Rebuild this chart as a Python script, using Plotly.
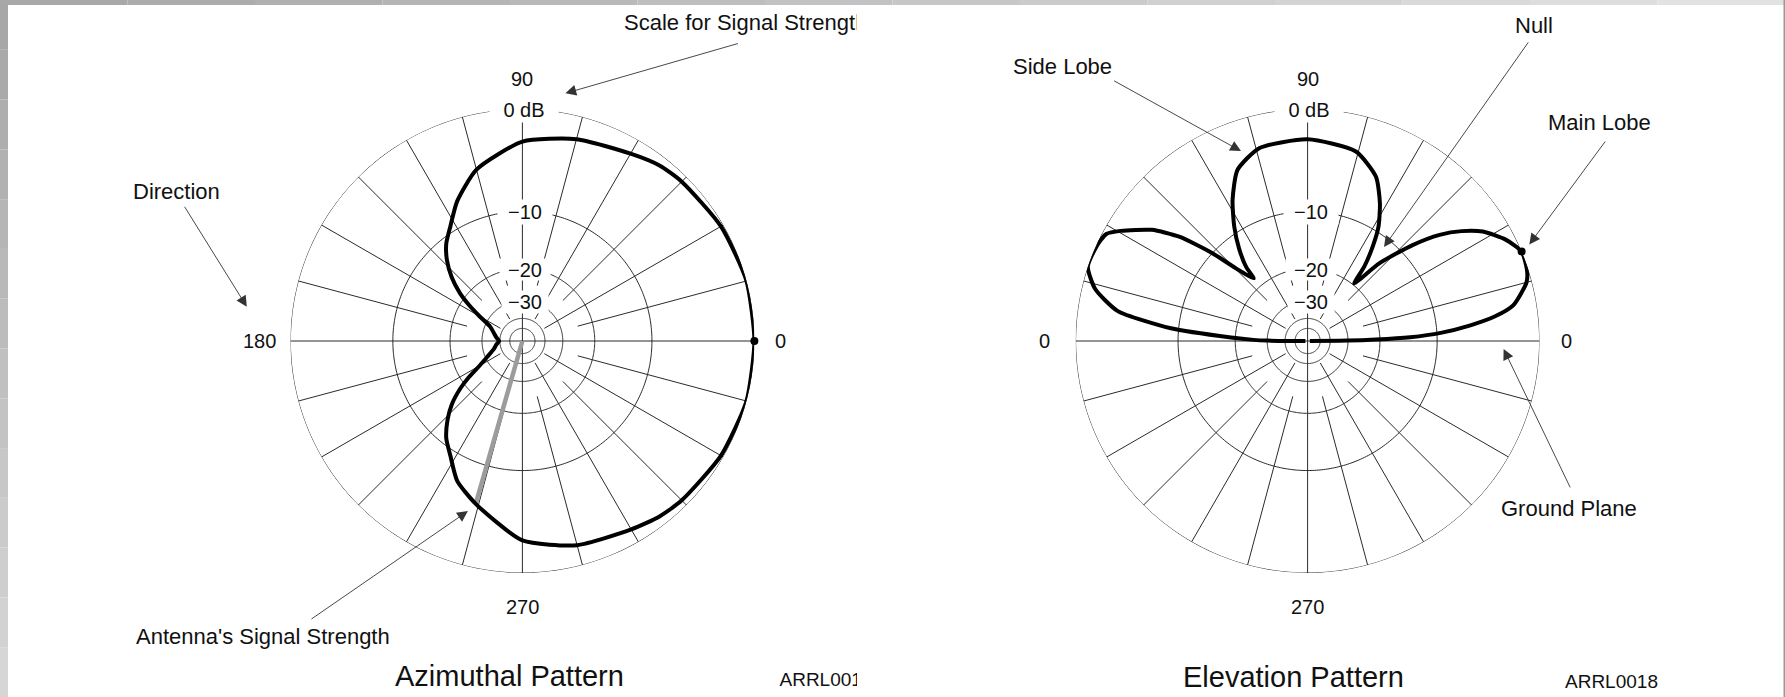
import numpy as np
import plotly.graph_objects as go

W, H = 1785, 697

# ---------------- data ----------------
# Azimuthal pattern: direction (deg) and relative signal strength (dB)
AZ_DEG = [0, 15, 30, 45, 52, 60, 75, 90, 105, 115, 122, 128, 133, 138, 142.6, 146, 150, 156, 165, 172, 180,
          188, 195, 204, 210, 214, 217.5, 222, 226.5, 232, 238, 245, 254, 270, 285, 300, 308, 315, 330, 345, 360]
AZ_DB = [0, 0, -0.2, -0.5, -0.7, -1.2, -1.8, -2.6, -4.6, -7.0, -9.2, -10.8, -12.7, -15.3, -18.6, -22, -26.5, -32.3, -35.5, -37.3, -39.5,
         -37.3, -35.5, -31, -26.5, -22, -18.6, -15.3, -13, -10.8, -9.2, -7.0, -5.4, -2.6, -1.6, -1.1, -0.7, -0.5, -0.2, 0, 0]

# Elevation pattern: elevation angle (deg) and relative signal strength (dB)
EL_DEG = [0, 0.6, 1.2, 2.1, 3.5, 5.5, 7.5, 9.9, 15, 18, 22.7, 27, 32, 35.5, 38.8, 42.4, 47.3, 51,
          52.7, 55.4, 58.2, 62.3, 67.4, 75.7, 90, 104.1, 112.3, 118, 122.7, 126.5, 129.7, 130.7,
          134.6, 137.3, 140.9, 144.5, 149.5, 152, 156, 161.3, 166.2, 171, 174.7, 177.4, 178.8, 179.4, 180]
EL_DB = [-80, -30, -21, -14, -9.5, -6.0, -3.5, -1.8, -0.4, -0.1, 0, -0.7, -2.0, -3.5, -5.4, -8.4, -13.5, -19.6,
         -15.6, -12.1, -9.35, -6.86, -4.55, -2.93, -2.4, -2.65, -3.9, -6.4, -9.2, -12, -15.1, -17.7,
         -14.1, -10, -5.8, -3.3, -1.15, -0.3, -0.05, 0, -1.0, -3.2, -9.0, -19.0, -25, -30, -80]

RING_DB = [0, -10, -20, -30, -40, -50]
RING_LABELS = ["0 dB", "\u221210", "\u221220", "\u221230"]
SPOKE_DEG = list(range(0, 360, 15))
AZ_DIR_LABELS = ["0", "90", "180", "270"]
EL_DIR_LABELS = ["0", "90", "0", "270"]
POINTER_DEG, POINTER_DB = 254, -5.4      # "Antenna's Signal Strength" pointer
AZ_PEAK_DEG, AZ_PEAK_DB = 0, 0
EL_PEAK_DEG, EL_PEAK_DB = 22.7, 0


def arrl(db):
    """ARRL log-periodic radial scale: radius shrinks by 0.89 for every 2 dB."""
    return 0.89 ** (-np.asarray(db, dtype=float) / 2.0)


# ---------------- geometry ----------------
R = 232
AZ_C = (522.4, 341.0)
EL_C = (1307.6, 341.0)
GRID = "#2a2a2a"
FONT = "Liberation Sans, Arial, Helvetica, sans-serif"
CLIP_X = 857


def dom(c):
    cx, cy = c
    return dict(x=[(cx - R) / W, (cx + R) / W], y=[1 - (cy + R) / H, 1 - (cy - R) / H])


def px(x, y):
    return x / W, 1 - y / H


fig = go.Figure()


def add_grid(sub):
    th = np.arange(0, 361, 1.0)
    for db in RING_DB:
        fig.add_trace(go.Scatterpolar(r=np.full(th.size, float(arrl(db))), theta=th, mode="lines",
                                      line=dict(color=GRID, width=1), subplot=sub, hoverinfo="skip"))
    rr, tt = [], []
    for d in SPOKE_DEG:
        m = d % 90
        inner = 0.0 if m == 0 else (float(arrl(-38)) if m in (30, 60) else float(arrl(-24)))
        rr += [inner, 1.0, None]
        tt += [d, d, None]
    fig.add_trace(go.Scatterpolar(r=rr, theta=tt, mode="lines", line=dict(color=GRID, width=1),
                                  subplot=sub, hoverinfo="skip", connectgaps=False))


# Azimuthal
add_grid("polar")
fig.add_trace(go.Scatterpolar(r=[0, float(arrl(POINTER_DB))], theta=[POINTER_DEG, POINTER_DEG], mode="lines",
                              line=dict(color="#9c9c9c", width=4.5), subplot="polar", hoverinfo="skip"))
fig.add_trace(go.Scatterpolar(r=arrl(AZ_DB), theta=AZ_DEG, mode="lines",
                              line=dict(color="black", width=4, shape="spline", smoothing=0.6),
                              subplot="polar", hoverinfo="skip"))
fig.add_trace(go.Scatterpolar(r=[float(arrl(AZ_PEAK_DB))], theta=[AZ_PEAK_DEG], mode="markers",
                              marker=dict(color="black", size=8), subplot="polar", hoverinfo="skip"))

# Elevation
add_grid("polar2")
fig.add_trace(go.Scatterpolar(r=arrl(EL_DB), theta=EL_DEG, mode="lines",
                              line=dict(color="black", width=4, shape="spline", smoothing=0.6),
                              subplot="polar2", hoverinfo="skip"))
fig.add_trace(go.Scatterpolar(r=[float(arrl(EL_PEAK_DB))], theta=[EL_PEAK_DEG], mode="markers",
                              marker=dict(color="black", size=8), subplot="polar2", hoverinfo="skip"))

# clipped texts of the left panel (cut at the panel edge as in the source)
fig.add_trace(go.Scatter(x=[624, 779.5], y=[24, 681], mode="text",
                         text=["Scale for Signal Strength", "ARRL0017"], textposition="middle right",
                         textfont=dict(family=FONT, size=[22, 19], color="#111"),
                         cliponaxis=True, hoverinfo="skip", xaxis="x", yaxis="y"))

polar_common = dict(radialaxis=dict(visible=False, range=[0, 1]),
                    angularaxis=dict(visible=False), bgcolor="rgba(0,0,0,0)")

annotations = []


def label(x, y, text, size=20, **kw):
    X, Y = px(x, y)
    annotations.append(dict(x=X, y=Y, xref="paper", yref="paper", text=text, showarrow=False,
                            font=dict(family=FONT, size=size, color="#111"),
                            xanchor="center", yanchor="middle", **kw))


def arrow(tail, tip):
    X, Y = px(*tip)
    annotations.append(dict(x=X, y=Y, xref="paper", yref="paper", text="", showarrow=True,
                            ax=tail[0] - tip[0], ay=tail[1] - tip[1], axref="pixel", ayref="pixel",
                            arrowhead=2, arrowsize=2.4, arrowwidth=0.9, arrowcolor="#333",
                            standoff=0, startstandoff=0))


BOXES = [(66, 22), (52, 22), (48, 19), (44, 20)]
for (cx, cy), dirs in ((AZ_C, AZ_DIR_LABELS), (EL_C, EL_DIR_LABELS)):
    for db, txt, (bw, bh) in zip(RING_DB, RING_LABELS, BOXES):
        off = 1.5 if db == 0 else 3
        label(cx + off, cy - R * float(arrl(db)) + 1, txt, bgcolor="white", width=bw, height=bh)
    label(cx + 258.5, cy, dirs[0])
    label(cx, cy - 261.5, dirs[1])
    label(cx - 263.2, cy, dirs[2])
    label(cx, cy + 265.7, dirs[3])

label(176, 192, "Direction", 22)
label(262.5, 636.5, "Antenna's Signal Strength", 22)
label(509, 676, "Azimuthal Pattern", 29)
label(1062.5, 66, "Side Lobe", 22)
label(1534, 25.5, "Null", 22)
label(1599, 122.5, "Main Lobe", 22)
label(1568.5, 508.5, "Ground Plane", 22)
label(1293, 676.5, "Elevation Pattern", 29)
label(1611.5, 681, "ARRL0018", 19)

arrow((739.4, 43.1), (565.4, 93.3))
arrow((183.7, 205.3), (246.8, 306.7))
arrow((310, 620), (467.9, 511.1))
arrow((1112.6, 80), (1241, 151.1))
arrow((1529.3, 40.9), (1384, 247))
arrow((1606.3, 140), (1529.3, 244.4))
arrow((1570.9, 488.9), (1503.6, 348.9))

# grey frame of the scanned figure
shapes = []
n = 14
for i in range(n):
    g = int(167 + (214 - 167) * i / (n - 1))
    shapes.append(dict(type="rect", xref="paper", yref="paper", x0=0, x1=8 / W,
                       y0=1 - (i + 1) / n, y1=1 - i / n, line=dict(width=0),
                       fillcolor=f"rgb({g},{g},{g})", layer="above"))
    g2 = int(168 + (226 - 168) * i / (n - 1))
    shapes.append(dict(type="rect", xref="paper", yref="paper", x0=i / n, x1=(i + 1) / n,
                       y0=1 - 5 / H, y1=1, line=dict(width=0),
                       fillcolor=f"rgb({g2},{g2},{g2})", layer="above"))
shapes.append(dict(type="rect", xref="paper", yref="paper", x0=1783.5 / W, x1=1,
                   y0=0, y1=1, line=dict(width=0), fillcolor="#9a9a9a", layer="above"))

fig.update_layout(
    width=W, height=H, margin=dict(l=0, r=0, t=0, b=0, pad=0),
    paper_bgcolor="white", plot_bgcolor="rgba(0,0,0,0)", showlegend=False,
    polar=dict(domain=dom(AZ_C), **polar_common),
    polar2=dict(domain=dom(EL_C), **polar_common),
    xaxis=dict(domain=[0, CLIP_X / W], range=[0, CLIP_X], visible=False, fixedrange=True),
    yaxis=dict(domain=[0, 1], range=[H, 0], visible=False, fixedrange=True),
    annotations=annotations, shapes=shapes,
)

fig.write_html("out.html", config={"displayModeBar": False},
               post_script="document.body.style.margin='0';document.body.style.overflow='hidden';")
